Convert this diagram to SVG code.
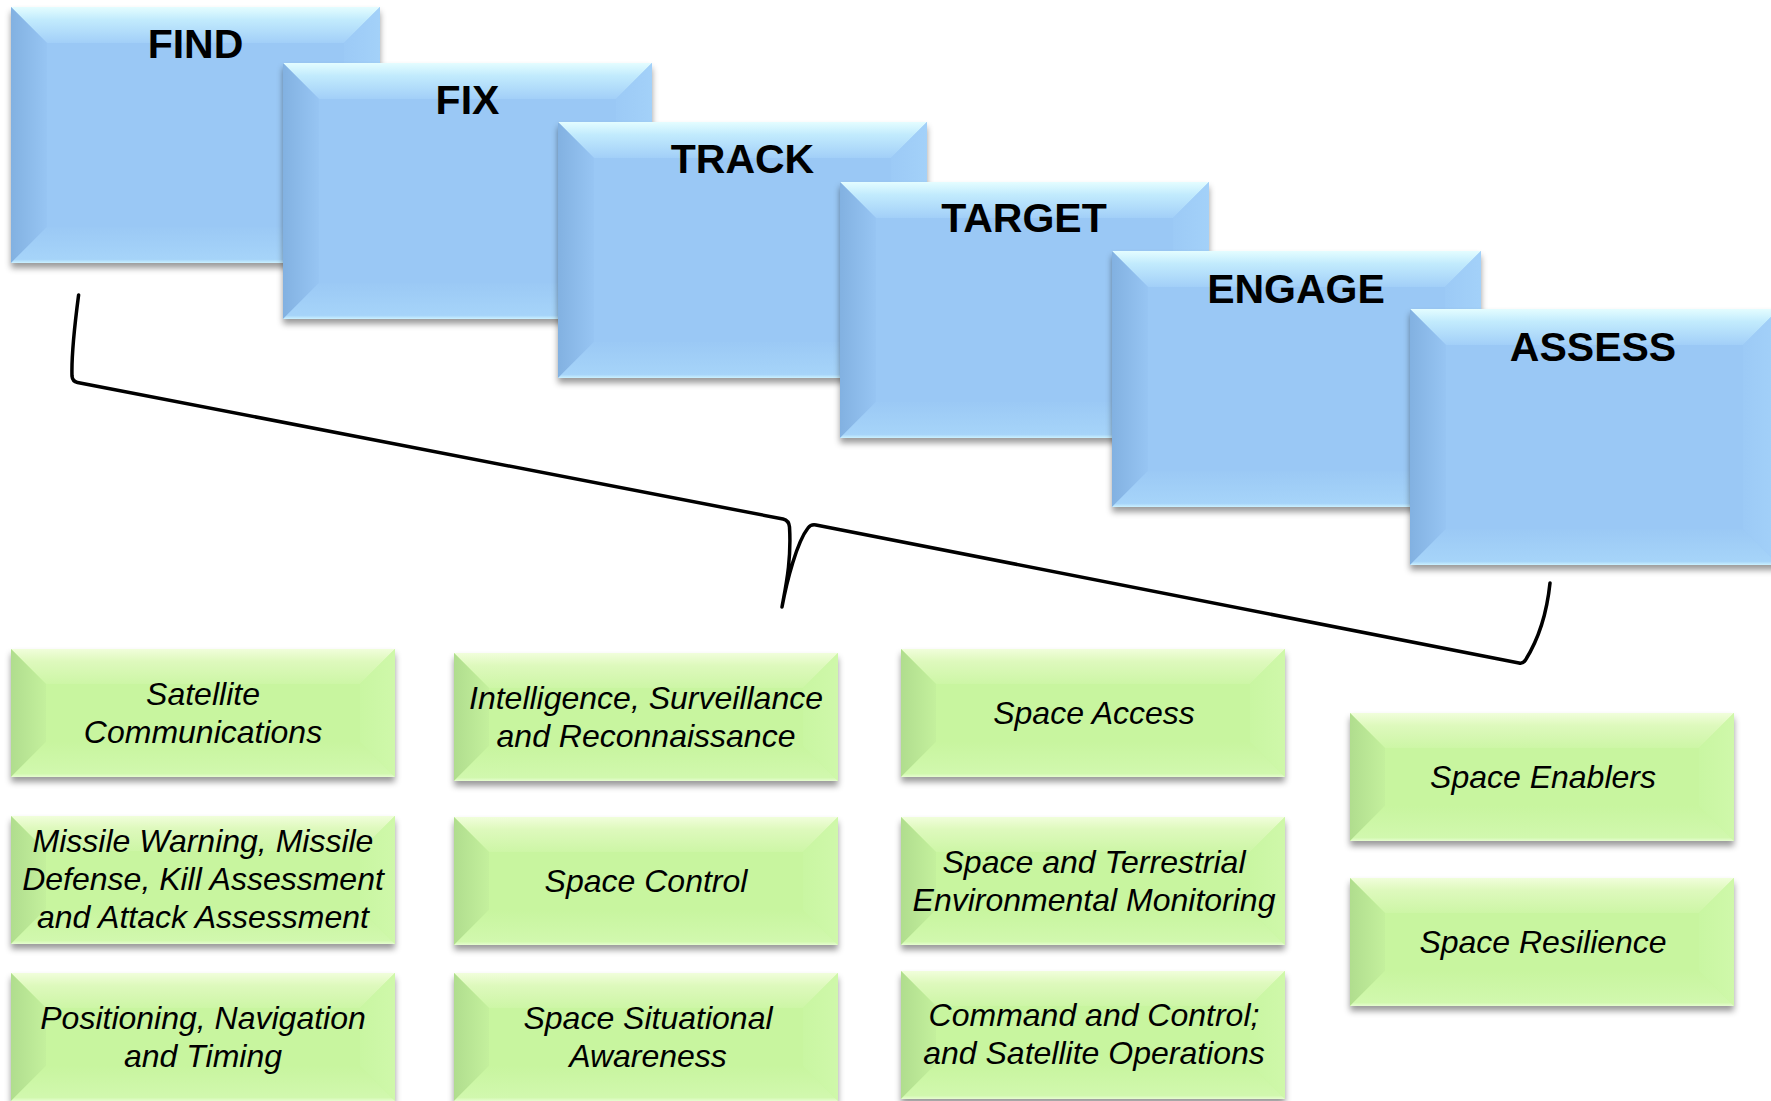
<svg xmlns="http://www.w3.org/2000/svg" width="1771" height="1101" viewBox="0 0 1771 1101">
<style>
.phase{font-family:"Liberation Sans",Arial,sans-serif;font-weight:bold;font-size:41px;text-anchor:middle;fill:#000}
.cap{font-family:"Liberation Sans",Arial,sans-serif;font-style:italic;font-size:32px;text-anchor:middle;fill:#000}
.brace{fill:none;stroke:#000;stroke-width:3.5;stroke-linecap:round;stroke-linejoin:round}
</style>
<defs>
<filter id="sh" x="-5%" y="-5%" width="110%" height="120%">
<feDropShadow dx="0" dy="5" stdDeviation="3" flood-color="#000" flood-opacity="0.4"/>
</filter>
<linearGradient id="bT" x1="0" y1="0" x2="0" y2="1"><stop offset="0" stop-color="#e4fdff"/><stop offset="0.35" stop-color="#c2ebfd"/><stop offset="1" stop-color="#a2cff8"/></linearGradient>
<linearGradient id="bL" x1="0" y1="0" x2="1" y2="0"><stop offset="0" stop-color="#82b1e1"/><stop offset="1" stop-color="#97c5f3"/></linearGradient>
<linearGradient id="bR" x1="0" y1="0" x2="1" y2="0"><stop offset="0" stop-color="#9ccaf6"/><stop offset="1" stop-color="#a3d1f9"/></linearGradient>
<linearGradient id="bB" x1="0" y1="0" x2="0" y2="1"><stop offset="0" stop-color="#9bc9f5"/><stop offset="0.9" stop-color="#a6d4f9"/><stop offset="1" stop-color="#cbf1ff"/></linearGradient>
<linearGradient id="gT" x1="0" y1="0" x2="0" y2="1"><stop offset="0" stop-color="#f1fedb"/><stop offset="0.35" stop-color="#def9bd"/><stop offset="1" stop-color="#cdf6a6"/></linearGradient>
<linearGradient id="gL" x1="0" y1="0" x2="1" y2="0"><stop offset="0" stop-color="#b0dd8e"/><stop offset="1" stop-color="#c4f09d"/></linearGradient>
<linearGradient id="gR" x1="0" y1="0" x2="1" y2="0"><stop offset="0" stop-color="#c9f6a2"/><stop offset="1" stop-color="#cff8aa"/></linearGradient>
<linearGradient id="gB" x1="0" y1="0" x2="0" y2="1"><stop offset="0" stop-color="#c8f59f"/><stop offset="0.9" stop-color="#d1f8ae"/><stop offset="1" stop-color="#e6fdd0"/></linearGradient>
<g id="blueBox">
<rect x="0" y="0" width="369" height="256" fill="#9ac8f5"/>
<polygon points="0,0 369,0 333,36 36,36" fill="url(#bT)"/>
<polygon points="0,0 36,36 36,220 0,256" fill="url(#bL)"/>
<polygon points="369,0 369,256 333,220 333,36" fill="url(#bR)"/>
<polygon points="0,256 36,220 333,220 369,256" fill="url(#bB)"/>
</g>
<g id="greenBox">
<rect x="0" y="0" width="384" height="128" fill="#c8f59f"/>
<polygon points="0,0 384,0 349,35 35,35" fill="url(#gT)"/>
<polygon points="0,0 35,35 35,93 0,128" fill="url(#gL)"/>
<polygon points="384,0 384,128 349,93 349,35" fill="url(#gR)"/>
<polygon points="0,128 35,93 349,93 384,128" fill="url(#gB)"/>
</g>
</defs>
<rect width="1771" height="1101" fill="#fff"/>

<g id="find"><use href="#blueBox" x="11" y="7" filter="url(#sh)"/><text class="phase" x="195.5" y="58">FIND</text></g>
<g id="fix"><use href="#blueBox" x="283" y="63" filter="url(#sh)"/><text class="phase" x="467.5" y="114">FIX</text></g>
<g id="track"><use href="#blueBox" x="558" y="122" filter="url(#sh)"/><text class="phase" x="742.5" y="173">TRACK</text></g>
<g id="target"><use href="#blueBox" x="840" y="182" filter="url(#sh)"/><text class="phase" x="1024" y="232">TARGET</text></g>
<g id="engage"><use href="#blueBox" x="1112" y="251" filter="url(#sh)"/><text class="phase" x="1296" y="302.5">ENGAGE</text></g>
<g id="assess"><use href="#blueBox" x="1410" y="309" filter="url(#sh)"/><text class="phase" x="1593" y="360.5">ASSESS</text></g>

<g id="connectors">
<path class="brace" d="M78.6,295 C74,330 71.5,360 72,376 Q72.5,381.5 77.5,382.5 L783,519 Q789,520.5 789.5,527 C791.5,560 786,585 782,607 C787,580 797,542 808,528 Q811,524 816,525 L1519,663 Q1523,664 1525.5,660 C1538,640 1547,612 1550,583"/>
</g>

<g id="satcom"><use href="#greenBox" x="11" y="649" filter="url(#sh)"/><text class="cap" x="203" y="705">Satellite</text><text class="cap" x="203" y="743">Communications</text></g>
<g id="missile"><use href="#greenBox" x="11" y="816" filter="url(#sh)"/><text class="cap" x="203" y="852">Missile Warning, Missile</text><text class="cap" x="203" y="890">Defense, Kill Assessment</text><text class="cap" x="203" y="928">and Attack Assessment</text></g>
<g id="pnt"><use href="#greenBox" x="11" y="973" filter="url(#sh)"/><text class="cap" x="203" y="1028.5">Positioning, Navigation</text><text class="cap" x="203" y="1066.5">and Timing</text></g>

<g id="isr"><use href="#greenBox" x="454" y="653" filter="url(#sh)"/><text class="cap" x="646" y="708.5">Intelligence, Surveillance</text><text class="cap" x="646" y="746.5">and Reconnaissance</text></g>
<g id="spacecontrol"><use href="#greenBox" x="454" y="817" filter="url(#sh)"/><text class="cap" x="646" y="891.5">Space Control</text></g>
<g id="ssa"><use href="#greenBox" x="454" y="973" filter="url(#sh)"/><text class="cap" x="648" y="1028.5">Space Situational</text><text class="cap" x="648" y="1066.5">Awareness</text></g>

<g id="spaceaccess"><use href="#greenBox" x="901" y="649" filter="url(#sh)"/><text class="cap" x="1094" y="724">Space Access</text></g>
<g id="environment"><use href="#greenBox" x="901" y="817" filter="url(#sh)"/><text class="cap" x="1094" y="872.5">Space and Terrestrial</text><text class="cap" x="1094" y="910.5">Environmental Monitoring</text></g>
<g id="c2"><use href="#greenBox" x="901" y="971" filter="url(#sh)"/><text class="cap" x="1094" y="1026">Command and Control;</text><text class="cap" x="1094" y="1064">and Satellite Operations</text></g>

<g id="enablers"><use href="#greenBox" x="1350" y="713" filter="url(#sh)"/><text class="cap" x="1543" y="787.5">Space Enablers</text></g>
<g id="resilience"><use href="#greenBox" x="1350" y="878" filter="url(#sh)"/><text class="cap" x="1543" y="952.5">Space Resilience</text></g>
</svg>
